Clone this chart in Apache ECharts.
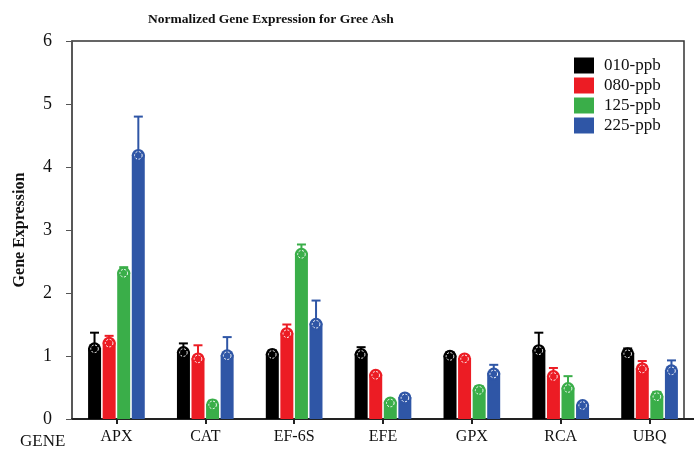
<!DOCTYPE html>
<html>
<head>
<meta charset="utf-8">
<script src="https://cdn.jsdelivr.net/npm/echarts@6/dist/echarts.min.js"></script>
<style>
  html, body { margin: 0; padding: 0; background: #fff; }
  #chart { width: 694px; height: 450px; }
</style>
</head>
<body>
<div id="chart"></div>
<script>
// gene categories on the x axis
const genes = ['APX', 'CAT', 'EF-6S', 'EFE', 'GPX', 'RCA', 'UBQ']
const yTicks = [0, 1, 2, 3, 4, 5, 6]

// mean expression per ozone level
const ppb010 = [1.13, 1.07, 1.04, 1.04, 1.01, 1.10, 1.05]
const ppb080 = [1.22, 0.97, 1.37, 0.71, 0.97, 0.69, 0.81]
const ppb125 = [2.33, 0.24, 2.63, 0.27, 0.47, 0.50, 0.37]
const ppb225 = [4.20, 1.02, 1.52, 0.35, 0.73, 0.23, 0.78]

// upper error (standard error) per ozone level
const err010 = [0.24, 0.13, 0.05, 0.10, 0.05, 0.27, 0.07]
const err080 = [0.10, 0.20, 0.13, 0.03, 0.03, 0.12, 0.11]
const err125 = [0.08, 0.05, 0.14, 0.03, 0.05, 0.18, 0.06]
const err225 = [0.60, 0.28, 0.36, 0.03, 0.13, 0.03, 0.15]

const seriesNames = ['010-ppb', '080-ppb', '125-ppb', '225-ppb']
const colors = ['#000000', '#ec1c24', '#3aae49', '#2f56a6']

const FONT = '"Liberation Serif", "DejaVu Serif", serif'
const BAR_W = 13
const BAR_GAP = 1.6

const chart = echarts.init(document.getElementById('chart'))

const means = [ppb010, ppb080, ppb125, ppb225]
const errs = [err010, err080, err125, err225]

// error bar + round marker drawn on top of each bar
function makeErrorSeries (idx) {
  const total = 4 * BAR_W + 3 * BAR_GAP
  const offset = -total / 2 + idx * (BAR_W + BAR_GAP) + BAR_W / 2
  const data = genes.map((g, i) => [i, means[idx][i], means[idx][i] + errs[idx][i]])
  return {
    name: 'err-' + seriesNames[idx],
    type: 'custom',
    data: data,
    z: 3,
    renderItem: function (params, api) {
      const base = api.coord([api.value(0), api.value(1)])
      const hi = api.coord([api.value(0), api.value(2)])
      const x = base[0] + offset
      const color = colors[idx]
      return {
        type: 'group',
        children: [
          {
            type: 'line',
            shape: { x1: x, y1: base[1], x2: x, y2: hi[1] },
            style: { stroke: color, lineWidth: 2 }
          },
          {
            type: 'line',
            shape: { x1: x - 4.5, y1: hi[1], x2: x + 4.5, y2: hi[1] },
            style: { stroke: color, lineWidth: 2 }
          },
          {
            type: 'circle',
            shape: { cx: x, cy: base[1] + 1, r: 6.5 },
            style: { fill: color, stroke: 'none' }
          },
          {
            type: 'circle',
            shape: { cx: x, cy: base[1] + 1, r: 3.8 },
            style: { fill: 'none', stroke: '#fff', lineWidth: 1, lineDash: [2, 1.6] }
          }
        ]
      }
    }
  }
}

const barSeries = seriesNames.map((name, idx) => ({
  name: name,
  type: 'bar',
  data: means[idx],
  barWidth: BAR_W,
  barGap: '12%',
  itemStyle: { color: colors[idx] },
  z: 2
}))

const option = {
  animation: false,
  backgroundColor: '#fff',
  title: [
    {
      text: 'Normalized Gene Expression for Gree Ash',
      left: 143,
      top: 8,
      textStyle: { fontFamily: FONT, fontSize: 13.5, fontWeight: 'bold', color: '#111' }
    },
    {
      text: 'GENE',
      left: 15,
      top: 428,
      textStyle: { fontFamily: FONT, fontSize: 17, fontWeight: 'normal', color: '#111' }
    }
  ],
  legend: {
    data: seriesNames,
    orient: 'vertical',
    left: 574,
    top: 57,
    padding: 0,
    icon: 'rect',
    itemWidth: 20,
    itemHeight: 16,
    itemGap: 3,
    textStyle: { fontFamily: FONT, fontSize: 17, color: '#111', padding: [0, 0, 0, 5] }
  },
  grid: [
    { left: 72, right: -4, top: 41, bottom: 31 },
    { left: 72, right: 10, top: 41, bottom: 31, show: true, borderColor: '#333', borderWidth: 1.5, backgroundColor: 'transparent' }
  ],
  xAxis: [
    {
      type: 'category',
      data: genes,
      gridIndex: 0,
      axisLine: { lineStyle: { color: '#222', width: 2 } },
      axisTick: { show: true, alignWithLabel: true, length: 5, lineStyle: { color: '#222', width: 2 } },
      axisLabel: { fontFamily: FONT, fontSize: 16, color: '#111', margin: 10 }
    },
    { type: 'value', gridIndex: 1, show: false }
  ],
  yAxis: [
    {
      type: 'value',
      gridIndex: 0,
      min: 0,
      max: 6,
      interval: 1,
      name: 'Gene Expression',
      nameLocation: 'middle',
      nameGap: 44,
      nameRotate: 90,
      nameTextStyle: { fontFamily: FONT, fontSize: 16, fontWeight: 'bold', color: '#111' },
      axisLine: { show: true, lineStyle: { color: '#555', width: 1.5 } },
      axisTick: { show: true, length: 6, lineStyle: { color: '#555' } },
      axisLabel: {
        fontFamily: FONT, fontSize: 18, color: '#111', margin: 20,
        formatter: v => (yTicks.includes(v) ? String(v) : '')
      },
      splitLine: { show: false }
    },
    { type: 'value', gridIndex: 1, show: false }
  ],
  series: barSeries.concat(seriesNames.map((n, i) => makeErrorSeries(i)))
}

chart.setOption(option)
</script>
</body>
</html>
